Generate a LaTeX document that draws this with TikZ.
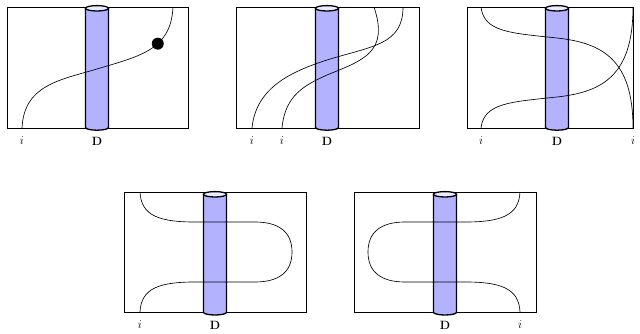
\documentclass[tikz,border=0pt]{standalone}
\usepackage{amsmath,amssymb}
\usetikzlibrary{calc}
\colorlet{rodside}{blue!30}
\colorlet{rodtop}{blue!8}
\newcommand{\drawrod}[3]{% centre x, top y, bottom y
  \filldraw[rod] (#1-11.5,#2) -- (#1-11.5,#3)
    arc[start angle=180,end angle=360,x radius=11.5pt,y radius=2.7pt]
    -- (#1+11.5,#2) -- cycle;
  \filldraw[rod,fill=rodtop] (#1,#2) ellipse[x radius=11.5pt,y radius=2.7pt];
}

\begin{document}
\begin{tikzpicture}[x=1pt,y=-1pt,
  frame/.style={line width=0.5pt},
  strand/.style={line width=0.65pt},
  rod/.style={line width=1.3pt,fill=rodside},
  lab/.style={inner sep=0pt,font=\large}]
\useasboundingbox (0,0) rectangle (640,334);
% first row
\draw[frame] (7,7) rectangle (188,128);
\drawrod{97}{8.3}{127.5}
\draw[strand] (22,128) .. controls (24,85) and (60,80) .. (97,69)
  .. controls (140,56) and (171,50) .. (173,7) coordinate[pos=0.6] (bead);
\fill (bead) circle[radius=6pt];
\node[lab] (i1) at (22,141) {$i$};
\node[lab] (D1) at (97,141) {$\mathbf{D}$};

\draw[frame] (236,7) rectangle (419,128);
\drawrod{327}{8.3}{127.5}
\draw[strand] (252,128) .. controls (256,88) and (290,72) .. (327,60)
  .. controls (372,46) and (403,45) .. (403,7);
\draw[strand] (282,128) .. controls (285,95) and (305,85) .. (327,75)
  .. controls (364,60) and (389,52) .. (374,7);
\node[lab] (i2) at (252,141) {$i$};
\node[lab] (i3) at (282,141) {$i$};
\node[lab] (D2) at (327,141) {$\mathbf{D}$};

\draw[frame] (467,7) rectangle (633,128);
\drawrod{557}{8.3}{127.5}
\draw[strand] (481,7) .. controls (484,32) and (510,33) .. (557,38)
  .. controls (603,43) and (633,60) .. (633,128);
\draw[strand] (481,128) .. controls (484,103) and (510,102) .. (557,97)
  .. controls (603,92) and (633,75) .. (633,7);
\node[lab] (i4) at (481,141) {$i$};
\node[lab] (D3) at (557,141) {$\mathbf{D}$};
\node[lab] (i5) at (633,141) {$i$};

% second row
\draw[frame] (124,192) rectangle (306,312);
\drawrod{215}{194.3}{312.3}
\draw[strand] (140,192) .. controls (141,216) and (160,222) .. (195,222) -- (255,222)
  .. controls (279,222) and (292,232) .. (292,252)
  .. controls (292,272) and (279,282) .. (255,282) -- (195,282)
  .. controls (160,282) and (141,288) .. (140,312);
\node[lab] (i6) at (140,325) {$i$};
\node[lab] (D4) at (215,325) {$\mathbf{D}$};

\draw[frame] (354,192) rectangle (536,312);
\drawrod{445}{194.3}{312.3}
\draw[strand] (520,192) .. controls (519,216) and (500,222) .. (465,222) -- (405,222)
  .. controls (381,222) and (368,232) .. (368,252)
  .. controls (368,272) and (381,282) .. (405,282) -- (465,282)
  .. controls (500,282) and (519,288) .. (520,312);
\node[lab] (D5) at (445,325) {$\mathbf{D}$};
\node[lab] (i7) at (520,325) {$i$};
\end{tikzpicture}
\end{document}
